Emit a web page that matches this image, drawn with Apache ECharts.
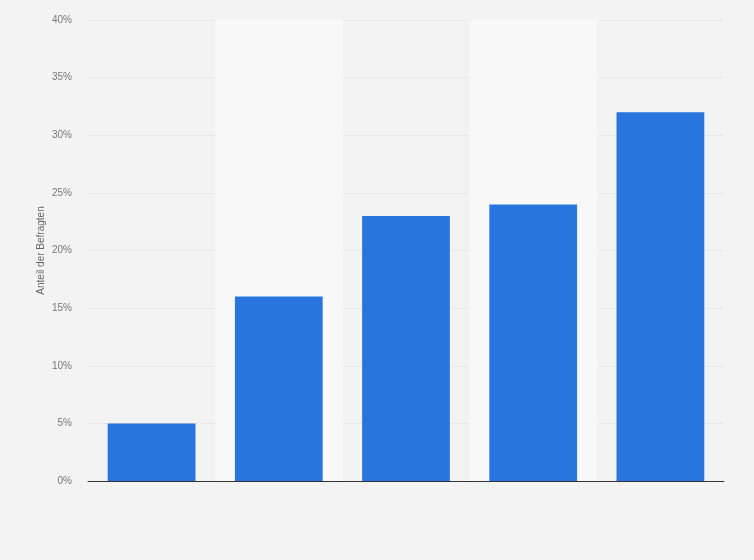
<!DOCTYPE html>
<html>
<head>
<meta charset="utf-8">
<script src="https://cdn.jsdelivr.net/npm/echarts@6/dist/echarts.min.js"></script>
<style>
  html, body { margin: 0; padding: 0; background: #f3f3f3; }
  #main { width: 754px; height: 560px; }
</style>
</head>
<body>
<div id="main"></div>
<script>
// categories have no visible labels in the source picture
const categories = ['A', 'B', 'C', 'D', 'E'];
const shares = [5, 16, 23, 24, 32];
const yTicks = { min: 0, max: 40, interval: 5 };

let myChart = echarts.init(document.getElementById('main'));

let options = {
    backgroundColor: '#f3f3f3',
    textStyle: { fontFamily: 'Liberation Sans, Arial, sans-serif' },
    grid: { left: 88, right: 30, top: 20, bottom: 79 },
    xAxis: {
        type: 'category',
        data: categories,
        axisLine: { lineStyle: { color: '#333', width: 1 } },
        axisTick: { show: false },
        axisLabel: { show: false },
        splitArea: {
            show: true,
            areaStyle: { color: ['rgba(0,0,0,0)', '#f8f8f8'] }
        }
    },
    yAxis: {
        type: 'value',
        min: yTicks.min,
        max: yTicks.max,
        interval: yTicks.interval,
        name: 'Anteil der Befragten',
        nameLocation: 'middle',
        nameGap: 42,
        nameMoveOverlap: false,
        nameTextStyle: { color: '#666', fontSize: 10 },
        axisLine: { show: false },
        axisTick: { show: false },
        axisLabel: {
            color: '#777',
            fontSize: 10,
            margin: 16,
            formatter: '{value}%'
        },
        splitLine: { lineStyle: { color: '#dcdcdc', type: [1, 1] } }
    },
    series: [
        {
            type: 'bar',
            data: shares,
            barWidth: '69%',
            itemStyle: { color: '#2876dd' },
            z: 3
        }
    ]
};
myChart.setOption(options);
</script>
</body>
</html>
